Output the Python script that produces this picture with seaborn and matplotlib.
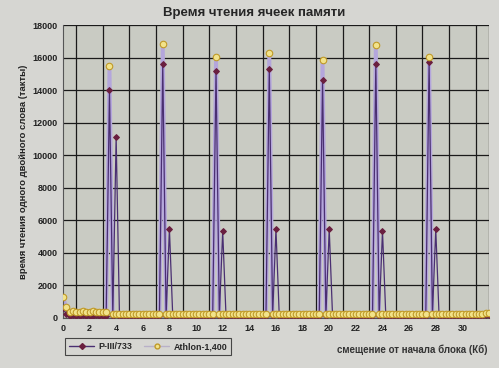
import numpy as np
import pandas as pd
import matplotlib
matplotlib.use("Agg")
import matplotlib.pyplot as plt
from matplotlib.lines import Line2D
import seaborn as sns

# offset from block start (KB), sampled every 0.25 KB
offset_kb = np.arange(0, 32.25, 0.25)

athlon = [1300, 650,
          380, 400, 370, 390, 410, 380, 360, 400, 390, 370, 380, 350,
          15460,
          240, 230, 250, 220, 240, 260, 230, 220, 250, 240, 230, 250, 240, 220, 230,
          16810,
          250, 230, 240, 220, 250, 240, 230, 260, 240, 220, 230, 250, 240, 230, 220,
          16010,
          230, 250, 240, 220, 230, 260, 240, 230, 250, 220, 240, 230, 250, 240, 230,
          16260,
          240, 220, 230, 250, 240, 230, 260, 240, 220, 230, 250, 240, 230, 220, 240,
          15830,
          230, 240, 250, 220, 230, 240, 260, 230, 240, 220, 250, 230, 240, 230, 220,
          16750,
          240, 230, 220, 250, 240, 230, 240, 260, 230, 220, 240, 250, 230, 240, 230,
          16010,
          230, 240, 220, 250, 230, 240, 260, 230, 240, 220, 250, 230, 240, 230, 250, 260, 280,
          320]

p3 = [600, 250,
      150, 160, 140, 150, 160, 150, 140, 150, 160, 150, 140, 150,
      14000, 150, 11100,
      120, 130, 110, 120, 130, 120, 110, 120, 130, 120, 110, 120, 130,
      15600, 130, 5460,
      120, 110, 130, 120, 110, 120, 130, 120, 110, 120, 130, 120, 110,
      15200, 130, 5340,
      120, 130, 110, 120, 130, 120, 110, 120, 130, 120, 110, 120, 130,
      15300, 130, 5460,
      110, 120, 130, 120, 110, 120, 130, 120, 110, 120, 130, 120, 110,
      14600, 130, 5460,
      120, 130, 110, 120, 130, 120, 110, 120, 130, 120, 110, 120, 130,
      15600, 130, 5340,
      120, 110, 130, 120, 110, 120, 130, 120, 110, 120, 130, 120, 110,
      15700, 130, 5460,
      120, 130, 110, 120, 130, 120, 110, 120, 130, 120, 110, 120, 130, 140, 160,
      200]

series_names = ["P-III/733", "Athlon-1,400"]
y_ticks = list(range(0, 18001, 2000))
x_ticks = list(range(0, 31, 2))

title = "Время чтения ячеек памяти"
ylabel = "время чтения одного двойного слова (такты)"
xlabel = "смещение от начала блока (Кб)"

sns.set_style("white")
plt.rcParams["font.family"] = ["Liberation Sans", "DejaVu Sans"]

fig = plt.figure(figsize=(4.99, 3.68), dpi=100)
fig.patch.set_facecolor("#d6d6d2")
ax = fig.add_axes([0.126, 0.136, 0.854, 0.796])
ax.set_facecolor("#c9cbc3")

df = pd.DataFrame({"x": offset_kb, "athlon": athlon, "p3": p3})

ath_face, ath_edge, ath_line = "#f2e38a", "#c09a28", "#b4a6dc"
p3_line, p3_mark = "#4a2f72", "#6a1f3f"

# Athlon line (under), P-III line + markers, Athlon markers on top
sns.lineplot(data=df, x="x", y="athlon", ax=ax, color=ath_line, linewidth=2.8,
             zorder=2, legend=False)
sns.lineplot(data=df, x="x", y="p3", ax=ax, color=p3_line, linewidth=0.9,
             marker="D", markersize=3.0, markerfacecolor=p3_mark,
             markeredgecolor=p3_mark, zorder=3, legend=False)
sns.scatterplot(data=df, x="x", y="athlon", ax=ax, s=22, color=ath_face,
                edgecolor=ath_edge, linewidth=0.8, zorder=4, legend=False)

ax.set_xlim(0, 32)
ax.set_ylim(0, 18000)
ax.set_yticks(y_ticks)
ax.set_xticks(x_ticks)
ax.set_xticks(range(0, 33), minor=True)
ax.grid(True, which="major", axis="y", color="#1a1a1a", linewidth=0.9)
ax.grid(True, which="minor", axis="x", color="#1a1a1a", linewidth=0.9)
ax.set_axisbelow(True)
for s in ["top", "right"]:
    ax.spines[s].set_visible(False)
ax.spines["left"].set_color("#555555")
ax.spines["bottom"].set_color("#555555")
ax.tick_params(axis="y", which="major", length=3, labelsize=6.5, color="#333333", pad=1)
ax.tick_params(axis="x", which="major", length=0, labelsize=6.5, pad=4)
ax.tick_params(axis="x", which="minor", length=0)
for lab in ax.get_yticklabels() + ax.get_xticklabels():
    lab.set_fontweight("bold")
    lab.set_color("#222222")

ax.set_xlabel("")
ax.set_ylabel(ylabel, fontsize=6.8, fontweight="bold", labelpad=3, color="#222222")
fig.text(0.51, 0.966, title, ha="center", va="center", fontsize=9.5, fontweight="bold")
fig.text(0.977, 0.05, xlabel, ha="right", va="center", fontsize=7, fontweight="bold",
         color="#333333")

handles = [
    Line2D([], [], color=p3_line, linewidth=1.0, marker="D", markersize=3,
           markerfacecolor=p3_mark, markeredgecolor=p3_mark),
    Line2D([], [], color="#b8b0c8", linewidth=1.0, marker="o", markersize=3.5,
           markerfacecolor=ath_face, markeredgecolor=ath_edge),
]
leg = fig.legend(handles, series_names,
                 loc="lower left", bbox_to_anchor=(0.122, 0.022), ncol=2,
                 fontsize=6.4, frameon=True, fancybox=False, handlelength=2.8,
                 columnspacing=1.3, borderpad=0.45, handletextpad=0.5)
leg.get_frame().set_edgecolor("#222222")
leg.get_frame().set_facecolor("#d6d6d2")
leg.get_frame().set_linewidth(0.8)
for t in leg.get_texts():
    t.set_fontweight("bold")

fig.savefig("out.png", dpi=100, facecolor=fig.get_facecolor())
